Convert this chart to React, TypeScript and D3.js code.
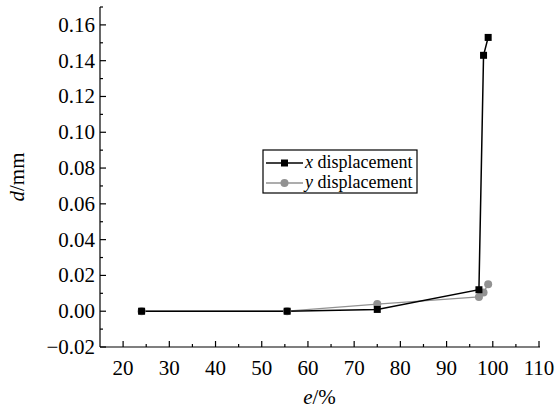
import React from 'react';
import * as d3 from 'd3';

// e (%) values for each measured point
const ePercent = [24, 55.5, 75, 97, 98, 99];
const xDisplacement = [0, 0, 0.001, 0.012, 0.143, 0.153];
const yDisplacement = [0, 0, 0.004, 0.008, 0.0105, 0.015];
const xTicks = [20, 30, 40, 50, 60, 70, 80, 90, 100, 110];
const yTicks = [-0.02, 0, 0.02, 0.04, 0.06, 0.08, 0.1, 0.12, 0.14, 0.16];
const seriesNames = ['x', 'y'];

const W = 557;
const H = 411;
const FONT = 'Liberation Serif, Times New Roman, Tinos, Noto Serif, DejaVu Serif, Times, serif';

const App = () => {
    const x = d3.scaleLinear().domain([15, 110]).range([100, 539]);
    const y = d3.scaleLinear().domain([-0.02, 0.17]).range([347, 7]);

    const xMinor = d3.range(25, 110, 10);
    const yMinor = d3.range(-0.01, 0.175, 0.02);

    const line = d3
        .line<[number, number]>()
        .x((p) => x(p[0]))
        .y((p) => y(p[1]));

    const xPts: [number, number][] = ePercent.map((e, i) => [e, xDisplacement[i]]);
    const yPts: [number, number][] = ePercent.map((e, i) => [e, yDisplacement[i]]);

    const grey = '#929292';
    const x0 = x.range()[0];
    const y0 = y.range()[0];

    return (
        <svg width={W} height={H} style={{ position: 'absolute', left: 0, top: 0, background: '#fff', fontFamily: FONT }}>
            {/* axes */}
            <line x1={x0} x2={x0} y1={y0} y2={y.range()[1]} stroke="#000" strokeWidth={1.2} />
            <line x1={x0} x2={x.range()[1] + 1} y1={y0} y2={y0} stroke="#000" strokeWidth={1.2} />
            {xTicks.map((t) => (
                <g key={'xt' + t}>
                    <line x1={x(t)} x2={x(t)} y1={y0} y2={y0 - 6} stroke="#000" strokeWidth={1.2} />
                    <text x={x(t)} y={y0 + 28} textAnchor="middle" fontSize={21}>
                        {t}
                    </text>
                </g>
            ))}
            {xMinor.map((t) => (
                <line key={'xm' + t} x1={x(t)} x2={x(t)} y1={y0} y2={y0 - 3} stroke="#000" strokeWidth={1.2} />
            ))}
            {yTicks.map((t) => (
                <g key={'yt' + t}>
                    <line x1={x0} x2={x0 + 6} y1={y(t)} y2={y(t)} stroke="#000" strokeWidth={1.2} />
                    <text x={x0 - 5} y={y(t) + 7} textAnchor="end" fontSize={21}>
                        {d3.format('.2f')(t)}
                    </text>
                </g>
            ))}
            {yMinor.map((t) => (
                <line key={'ym' + t} x1={x0} x2={x0 + 3} y1={y(t)} y2={y(t)} stroke="#000" strokeWidth={1.2} />
            ))}

            {/* axis titles */}
            <text
                transform={`translate(24,${(y0 + y.range()[1]) / 2}) rotate(-90)`}
                textAnchor="middle"
                fontSize={21}
            >
                <tspan fontStyle="italic">d</tspan>/mm
            </text>
            <text x={(x0 + x.range()[1]) / 2} y={404} textAnchor="middle" fontSize={21}>
                <tspan fontStyle="italic">e</tspan>/%
            </text>

            {/* series */}
            <path d={line(yPts) || ''} fill="none" stroke={grey} strokeWidth={1.3} />
            <path d={line(xPts) || ''} fill="none" stroke="#000" strokeWidth={1.5} />
            {yPts.map((p, i) => (
                <circle key={'yc' + i} cx={x(p[0])} cy={y(p[1])} r={4} fill={grey} />
            ))}
            {xPts.map((p, i) => (
                <rect key={'xr' + i} x={x(p[0]) - 3.5} y={y(p[1]) - 3.5} width={7} height={7} fill="#000" />
            ))}

            {/* legend */}
            <rect x={263} y={150} width={154} height={43} fill="#fff" stroke="#000" strokeWidth={1.2} />
            {seriesNames.map((s, i) => {
                const ly = 163 + i * 20;
                const c = i === 0 ? '#000' : grey;
                return (
                    <g key={s}>
                        <line x1={266} x2={303} y1={ly} y2={ly} stroke={c} strokeWidth={i === 0 ? 1.5 : 1.3} />
                        {i === 0 ? (
                            <rect x={281} y={ly - 3.5} width={7} height={7} fill="#000" />
                        ) : (
                            <circle cx={284.5} cy={ly} r={4} fill={grey} />
                        )}
                        <text x={305} y={ly + 5} fontSize={18}>
                            <tspan fontStyle="italic">{s}</tspan> displacement
                        </text>
                    </g>
                );
            })}
        </svg>
    );
};

export default App;
